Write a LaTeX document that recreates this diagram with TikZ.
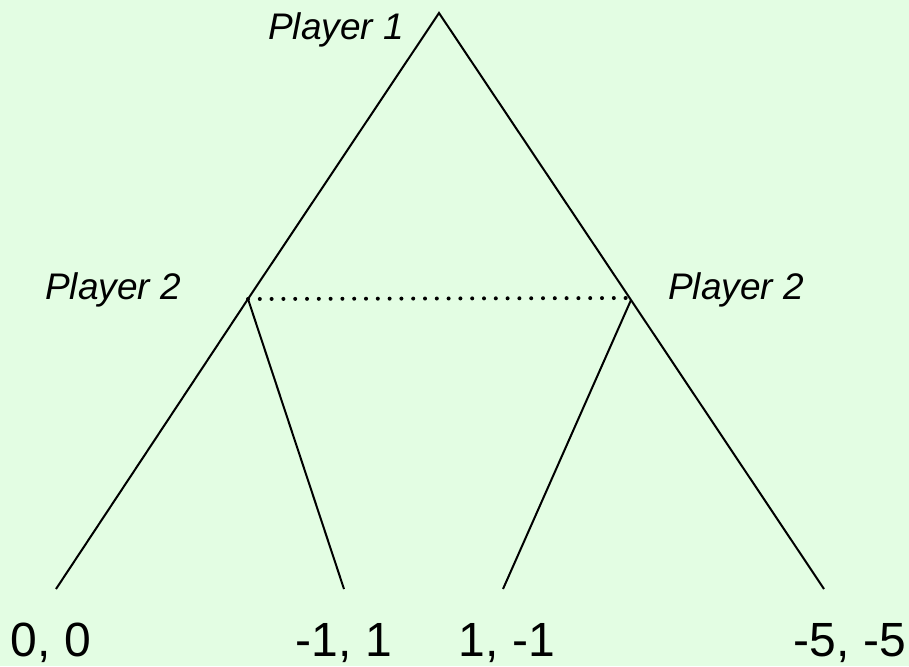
\documentclass[tikz,border=0pt]{standalone}
\usepackage{fontspec}
\setmainfont{Liberation Sans}
\usepackage{tikz}
\usetikzlibrary{positioning,calc}
\definecolor{bgreen}{HTML}{E3FDE3}
\definecolor{ink}{HTML}{000000}
\tikzset{
  branch/.style={draw=ink,line width=2pt},
  infoset/.style={draw=ink,line width=4pt,line cap=round,dash pattern=on 0pt off 11.8pt},
  player/.style={font=\fontsize{37}{40}\selectfont\itshape,inner sep=0pt,anchor=base west},
  payoff/.style={font=\fontsize{48}{52}\selectfont,inner sep=0pt,anchor=base}
}

\begin{document}
\begin{tikzpicture}[x=1pt,y=-1pt]
  \fill[bgreen] (0,0) rectangle (909,666);
  \useasboundingbox (0,0) rectangle (909,666);
  % decision nodes and leaves
  \coordinate (root) at (439,13);
  \coordinate (left) at (248,299);
  \coordinate (right) at (631,300);
  \coordinate (ll) at (56,589);
  \coordinate (lr) at (344,589);
  \coordinate (rl) at (503,589);
  \coordinate (rr) at (824,589);
  \draw[branch] (ll) -- (left) -- (root) -- (right) -- (rr);
  \draw[branch] (left) -- (lr);
  \draw[branch] (right) -- (rl);
  \draw[infoset] (left) -- ($(right)+(-4,-2)$);
  % labels
  \node[player] (p1) at (268,40) {Player 1};
  \node[player] (p2l) at (45,299) {Player 2};
  \node[player] (p2r) at (668,299) {Player 2};
  \node[payoff] (u1) at ($(ll)+(-5,67)$) {0, 0};
  \node[payoff] (u2) at ($(lr)+(0,67)$) {-1, 1};
  \node[payoff] (u3) at ($(rl)+(4,67)$) {1, -1};
  \node[payoff] (u4) at ($(rr)+(26,67)$) {-5, -5};
\end{tikzpicture}
\end{document}
